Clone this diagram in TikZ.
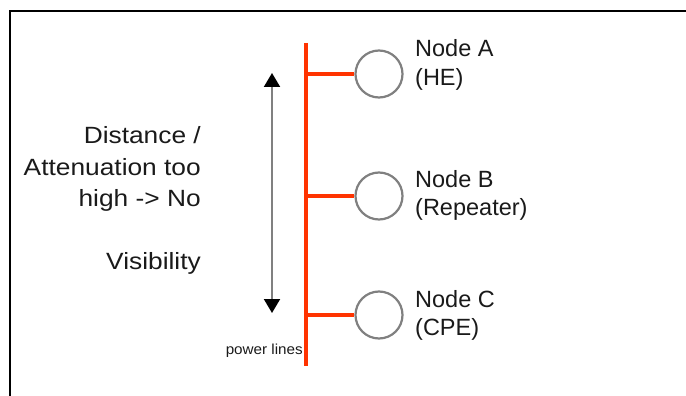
\documentclass[tikz,border=0pt]{standalone}
\usepackage{fontspec}
\setmainfont{Liberation Sans}
\usetikzlibrary{arrows.meta}
\definecolor{busred}{HTML}{FF3300}
\definecolor{ringgray}{HTML}{808080}
\definecolor{txt}{HTML}{1A1A1A}
\tikzset{
  frameline/.style={line width=2.2pt, black},
  bus/.style={line width=3.5pt, busred},
  ring/.style={circle, draw=ringgray, line width=2.2pt, minimum size=47pt, inner sep=0pt},
  lbl/.style={font=\fontsize{23.5}{28}\selectfont, text=txt, inner sep=0pt, anchor=base west},
  side/.style={font=\fontsize{23.5}{28}\selectfont, text=txt, inner sep=0pt, anchor=base east, xscale=1.12, transform shape},
  small/.style={font=\fontsize{14.5}{16}\selectfont, text=txt, inner sep=0pt, anchor=base east, xscale=1.05, transform shape},
  span/.style={draw=ringgray, line width=2pt, {Triangle[length=14pt,width=16pt,color=black]}-{Triangle[length=14pt,width=16pt,color=black]}}
}
\begin{document}
\begin{tikzpicture}[x=1pt, y=-1pt]
\useasboundingbox (0,0) rectangle (686,396);
% frame (top and left edges only)
\draw[frameline] (686,11) -- (10,11) -- (10,396);
% bus
\coordinate (bustop) at (306,43);
\coordinate (busbot) at (306,366);
\draw[bus] (bustop) -- (busbot);
% circles
\node[ring] (ca) at (379,74) {};
\node[ring] (cb) at (379,196) {};
\node[ring] (cc) at (379,315) {};
\coordinate (ja) at (306,74);
\coordinate (jb) at (306,196);
\coordinate (jc) at (306,315);
\draw[bus] (ja) -- (ca.west);
\draw[bus] (jb) -- (cb.west);
\draw[bus] (jc) -- (cc.west);
% labels
\node[lbl] (la1) at (415,57) {Node A};
\node[lbl] (la2) at (415,85) {(HE)};
\node[lbl] (lb1) at (415,187) {Node B};
\node[lbl] (lb2) at (415,215) {(Repeater)};
\node[lbl] (lc1) at (415,307) {Node C};
\node[lbl] (lc2) at (415,335) {(CPE)};
% arrow
\coordinate (atop) at (272,73);
\coordinate (abot) at (272,313);
\draw[span] (atop) -- (abot);
% left text
\node[side] (t1) at (201,143) {Distance /};
\node[side] (t2) at (201,175) {Attenuation too};
\node[side] (t3) at (201,206) {high -> No};
\node[side] (t4) at (201,269) {Visibility};
\node[small] (pl) at (303,354) {power lines};
\end{tikzpicture}
\end{document}
